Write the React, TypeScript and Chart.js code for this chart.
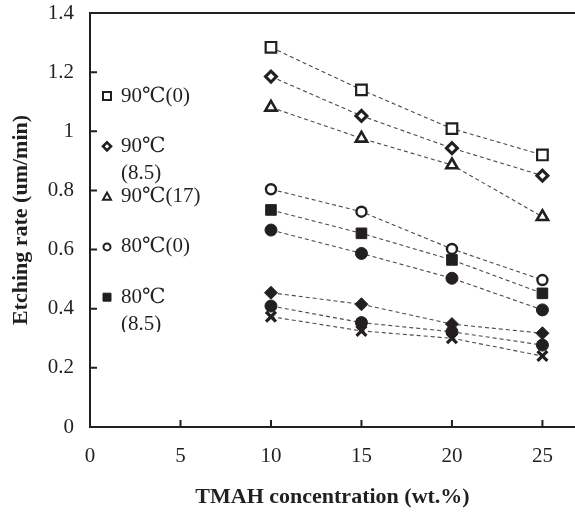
import React, { useEffect, useRef } from 'react';
import { Chart, registerables } from 'chart.js';

Chart.register(...registerables);

// ---- data ----
const concentrations = [10, 15, 20, 25];
const xTickValues = [0, 5, 10, 15, 20, 25];
const yTickValues = [0, 0.2, 0.4, 0.6, 0.8, 1, 1.2, 1.4];
const yTickLabels = ['0', '0.2', '0.4', '0.6', '0.8', '1', '1.2', '1.4'];
const seriesNames = ['90℃(0)', '90℃(8.5)', '90℃(17)', '80℃(0)', '80℃(8.5)', '80℃(17)', '70℃(0)', '70℃(8.5)', '70℃(17)'];
const legendLines = [['90℃(0)'], ['90℃', '(8.5)'], ['90℃(17)'], ['80℃(0)'], ['80℃', '(8.5)'], ['80℃', '(17)'], ['70℃(0)'], ['70℃', '(8.5)'], ['70℃(17)']];
const rate90_0 = [1.284, 1.14, 1.009, 0.92];
const rate90_85 = [1.185, 1.052, 0.943, 0.85];
const rate90_17 = [1.081, 0.976, 0.886, 0.711];
const rate80_0 = [0.804, 0.728, 0.602, 0.497];
const rate80_85 = [0.734, 0.655, 0.565, 0.452];
const rate80_17 = [0.666, 0.587, 0.503, 0.396];
const rate70_0 = [0.454, 0.415, 0.348, 0.317];
const rate70_85 = [0.409, 0.353, 0.322, 0.277];
const rate70_17 = [0.373, 0.325, 0.3, 0.24];

const INK = '#231f20';
const FONT = "'Liberation Serif', 'DejaVu Serif', 'Noto Sans CJK SC', serif";

type Marker = { style: string; filled: boolean; radius: number; width: number };
const markers: Marker[] = [
  { style: 'rect', filled: false, radius: 7.5, width: 2.2 },
  { style: 'rectRot', filled: false, radius: 5.5, width: 3 },
  { style: 'triangle', filled: false, radius: 6.5, width: 2.6 },
  { style: 'circle', filled: false, radius: 5, width: 2.4 },
  { style: 'rect', filled: true, radius: 7.5, width: 1 },
  { style: 'circle', filled: true, radius: 6, width: 1 },
  { style: 'rectRot', filled: true, radius: 6.5, width: 1 },
  { style: 'circle', filled: true, radius: 6, width: 1 },
  { style: 'crossRot', filled: false, radius: 7, width: 3.2 },
];
const allSeries = [rate90_0, rate90_85, rate90_17, rate80_0, rate80_85, rate80_17, rate70_0, rate70_85, rate70_17];

function drawLegendMarker(ctx: CanvasRenderingContext2D, m: Marker, x: number, y: number) {
  const r = 4;
  ctx.save();
  ctx.fillStyle = INK;
  ctx.strokeStyle = INK;
  ctx.lineWidth = m.filled ? 1 : 2;
  ctx.beginPath();
  if (m.style === 'rect') {
    ctx.rect(x - r, y - r, 2 * r, 2 * r);
  } else if (m.style === 'rectRot') {
    ctx.lineWidth = 2.6;
    ctx.moveTo(x, y - r); ctx.lineTo(x + r, y); ctx.lineTo(x, y + r); ctx.lineTo(x - r, y); ctx.closePath();
  } else if (m.style === 'triangle') {
    ctx.moveTo(x, y - r); ctx.lineTo(x + r, y + r * 0.8); ctx.lineTo(x - r, y + r * 0.8); ctx.closePath();
  } else if (m.style === 'circle') {
    ctx.arc(x, y, r - 0.5, 0, Math.PI * 2);
  } else {
    ctx.moveTo(x - r, y - r); ctx.lineTo(x + r, y + r); ctx.moveTo(x + r, y - r); ctx.lineTo(x - r, y + r);
  }
  if (m.filled) ctx.fill();
  ctx.stroke();
  ctx.restore();
}

const framePlugin = {
  id: 'framePlugin',
  afterDraw(chart: any) {
    const { ctx, chartArea: ca, scales } = chart;
    ctx.save();
    ctx.strokeStyle = INK;
    ctx.lineWidth = 2;
    ctx.beginPath();
    ctx.moveTo(ca.left - 1, ca.top);
    ctx.lineTo(ca.right, ca.top);
    scales.y.ticks.forEach((t: any) => {
      const py = scales.y.getPixelForValue(t.value);
      ctx.moveTo(ca.left, py);
      ctx.lineTo(ca.left + 7, py);
    });
    scales.x.ticks.forEach((t: any) => {
      const px = scales.x.getPixelForValue(t.value);
      ctx.moveTo(px, ca.bottom);
      ctx.lineTo(px, ca.bottom - 7);
    });
    ctx.stroke();

    // legend (clipped like the source)
    ctx.beginPath();
    ctx.rect(ca.left + 2, ca.top + 2, 130, 317);
    ctx.clip();
    ctx.font = `21px ${FONT}`;
    ctx.fillStyle = INK;
    ctx.textBaseline = 'middle';
    ctx.textAlign = 'left';
    legendLines.forEach((lines, i) => {
      const y0 = ca.top + 83 + i * 50.3;
      drawLegendMarker(ctx, markers[i], ca.left + 17, y0);
      lines.forEach((ln, j) => ctx.fillText(ln, ca.left + 31, y0 + j * 27));
    });
    ctx.restore();
  },
};

export default function App() {
  const ref = useRef<HTMLCanvasElement>(null);
  useEffect(() => {
    if (!ref.current) return;
    const datasets = allSeries.map((vals, i) => {
      const m = markers[i];
      return {
        label: seriesNames[i],
        data: concentrations.map((c, k) => ({ x: c, y: vals[k] })),
        showLine: true,
        borderColor: '#4a4a4a',
        borderWidth: 1.1,
        borderDash: [4, 3],
        pointStyle: m.style,
        pointRadius: m.radius,
        pointBorderWidth: m.width,
        pointBorderColor: INK,
        pointBackgroundColor: m.filled ? INK : '#ffffff',
      };
    });
    const chart = new Chart(ref.current, {
      type: 'scatter',
      data: { datasets: datasets as any },
      plugins: [framePlugin],
      options: {
        responsive: false,
        animation: false,
        layout: { autoPadding: false, padding: { top: 13, right: 0, left: 0, bottom: 0 } },
        plugins: { legend: { display: false }, tooltip: { enabled: false } },
        scales: {
          x: {
            type: 'linear',
            min: 0,
            max: 26.8,
            afterFit: (s: any) => { s.height = 89; s.paddingLeft = 0; s.paddingRight = 0; },
            afterBuildTicks: (s: any) => { s.ticks = xTickValues.map((v) => ({ value: v })); },
            grid: { display: true, drawOnChartArea: false, drawTicks: false },
            border: { display: true, color: INK, width: 2 },
            ticks: { padding: 17, color: INK, font: { family: FONT, size: 21 }, maxRotation: 0 },
            title: {
              display: true,
              text: 'TMAH concentration (wt.%)',
              color: INK,
              font: { family: FONT, size: 22, weight: 'bold' },
              padding: { top: 0, bottom: 5 },
            },
          },
          y: {
            type: 'linear',
            min: 0,
            max: 1.4,
            afterFit: (s: any) => { s.width = 90; s.paddingTop = 0; s.paddingBottom = 0; },
            afterBuildTicks: (s: any) => { s.ticks = yTickValues.map((v) => ({ value: v })); },
            grid: { display: true, drawOnChartArea: false, drawTicks: false },
            border: { display: true, color: INK, width: 2 },
            ticks: {
              padding: 16,
              color: INK,
              font: { family: FONT, size: 21 },
              callback: (_v: any, idx: number) => yTickLabels[idx],
            },
            title: {
              display: true,
              text: 'Etching rate (um/min)',
              color: INK,
              font: { family: FONT, size: 22, weight: 'bold' },
              padding: { top: 8, bottom: 0 },
            },
          },
        },
      } as any,
    });
    return () => chart.destroy();
  }, []);
  return (
    <div style={{ position: 'absolute', left: 0, top: 0, width: 575, height: 516, background: '#fff' }}>
      <canvas ref={ref} width={575} height={516} style={{ display: 'block' }} />
    </div>
  );
}
